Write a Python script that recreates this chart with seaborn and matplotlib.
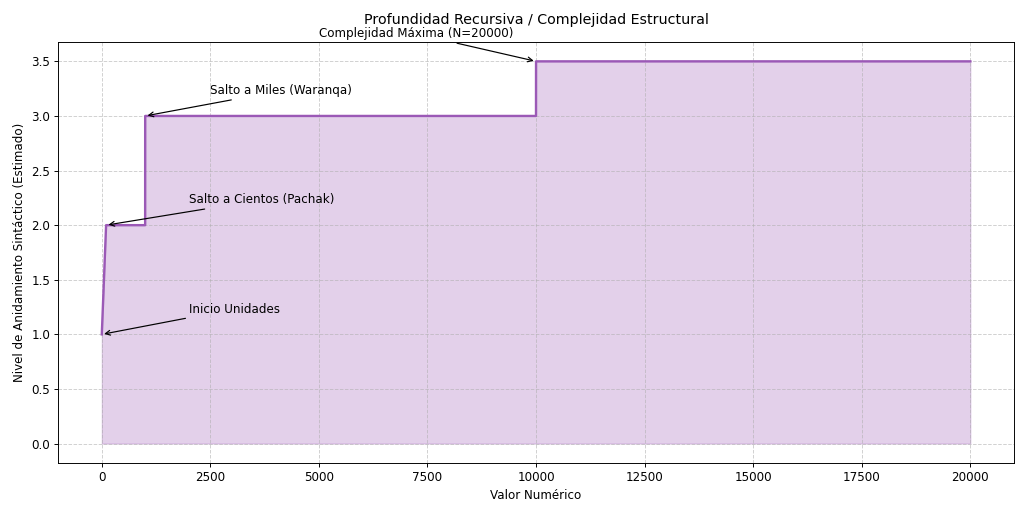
import matplotlib
matplotlib.use('Agg')
import matplotlib.pyplot as plt
import seaborn as sns
import pandas as pd

# Datos: nivel de anidamiento segun el valor numerico
valores = [1, 100, 999, 1000, 9999, 10000, 20000]
niveles = [1, 2, 2, 3, 3, 3.5, 3.5]

# Anotaciones (texto, punto, posicion del texto)
notas_texto = ['Inicio Unidades', 'Salto a Cientos (Pachak)',
               'Salto a Miles (Waranqa)', 'Complejidad Máxima (N=20000)']
notas_xy = [(1, 1), (100, 2), (1000, 3), (10000, 3.5)]
notas_xytext = [(2000, 1.2), (2000, 2.2), (2500, 3.2), (5000, 3.72)]

df = pd.DataFrame({'Valor': valores, 'Nivel': niveles})
color = '#9b59b6'

fig, ax = plt.subplots(figsize=(12, 5.965), dpi=1024 / 12)
sns.lineplot(data=df, x='Valor', y='Nivel', color=color, linewidth=2, sort=False, ax=ax)
ax.fill_between(df['Valor'], df['Nivel'], color=color, alpha=0.28)

for texto, xy, xytext in zip(notas_texto, notas_xy, notas_xytext):
    ax.annotate(texto, xy=xy, xytext=xytext,
                arrowprops=dict(arrowstyle='->', color='black'), fontsize=10)

ax.set_title('Profundidad Recursiva / Complejidad Estructural', fontsize=12, pad=15)
ax.set_xlabel('Valor Numérico')
ax.set_ylabel('Nivel de Anidamiento Sintáctico (Estimado)')
ax.grid(True, linestyle='--', alpha=0.6)

plt.subplots_adjust(left=0.057, right=0.990, top=0.917, bottom=0.091)
plt.savefig('out.png')
